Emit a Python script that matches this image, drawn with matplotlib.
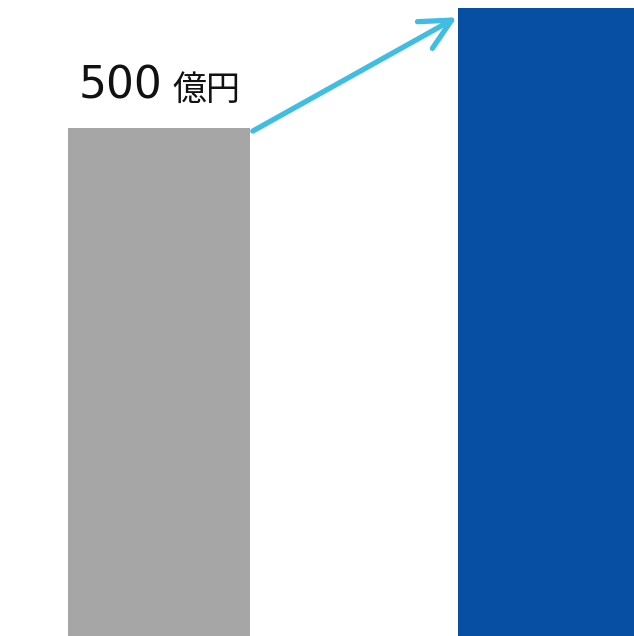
import matplotlib.pyplot as plt

plt.rcParams['font.family'] = ['Noto Sans CJK JP', 'DejaVu Sans']

# Balken: vorher / nachher
categories = ["before", "after"]
values = [500, 618]
colors = ["#a6a6a6", "#074fa3"]
label_num = "500"
label_unit = "億円"

bar_width = 0.467

fig = plt.figure(figsize=(6.34, 6.36), dpi=100)
ax = fig.add_axes([0, 0, 1, 1])
x = list(range(len(categories)))
ax.bar(x, values, width=bar_width, color=colors)

ax.set_xlim(-0.4077, 1.2179)
ax.set_ylim(0, 626)
ax.axis("off")

# Pfeil von der Oberkante des ersten Balkens zum zweiten
ax.annotate("",
            xy=(x[1] - bar_width / 2 - 0.003, values[1] - 9),
            xytext=(x[0] + bar_width / 2 + 0.007, values[0] - 3),
            arrowprops=dict(arrowstyle="->,head_length=1.1,head_width=0.55",
                        mutation_scale=20, color="#3fbde2", lw=3.8,
                        capstyle="round", joinstyle="round",
                        shrinkA=0, shrinkB=0))

# Beschriftung "500億円"
t1 = ax.text(x[0] - bar_width / 2 + 0.028, values[0] + 29, label_num,
             fontsize=31.5, color="#111111", ha="left", va="baseline",
             family=["DejaVu Sans"])
ax.annotate(label_unit, xy=(1, 0), xycoords=t1, xytext=(7, 0),
            textcoords="offset points", fontsize=24.5, color="#111111",
            ha="left", va="bottom")

fig.savefig("out.png", dpi=100)
